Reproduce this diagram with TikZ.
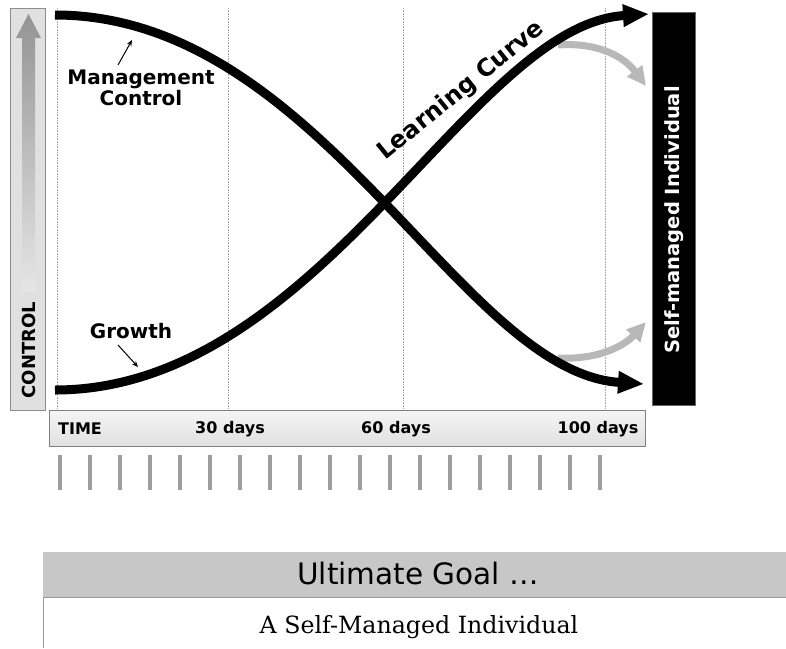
\documentclass[tikz,border=0pt]{standalone}
\usepackage{fontspec}
\setmainfont{DejaVu Serif}
\setsansfont{DejaVu Sans}
\usetikzlibrary{arrows.meta}
\begin{document}
\begin{tikzpicture}[x=1pt,y=-1pt,
  curve/.style={line width=9pt,-{Triangle[length=26pt,width=21pt]}},
  softarrow/.style={line width=7pt,color=black!28,-{Triangle[length=19pt,width=18pt]}},
  grid/.style={draw=black!35,line width=0.6pt,densely dotted},
  lbl/.style={font=\sffamily\bfseries\fontsize{20}{18}\selectfont,align=center,inner sep=0pt},
  daylbl/.style={font=\sffamily\bfseries\fontsize{16}{17}\selectfont,inner sep=0pt},
  tick/.style={draw=black!38,line width=3.5pt},
  pointer/.style={line width=1pt,-{Stealth[length=6pt,width=5pt]}}]
\useasboundingbox (0,0) rectangle (786,648);
% vertical control scale
\node[draw=black!45,line width=0.6pt,fill=black!12,minimum width=35pt,minimum height=402pt,inner sep=0pt] (ctrlbox) at (27.5,209) {};
\shade[top color=black!42,bottom color=black!10]
  (22,292) -- (22,38) -- (16,38) -- (28.5,14) -- (41,38) -- (35,38) -- (35,292) -- cycle;
\node[rotate=90,font=\sffamily\bfseries\fontsize{18}{19}\selectfont,inner sep=0pt] (ctrl) at (28.5,350) {CONTROL};
% time grid
\foreach \x/\n in {57/ga,228/gb,403/gc,605/gd}{
  \coordinate (\n top) at (\x,8);
  \coordinate (\n bot) at (\x,410);
  \draw[grid] (\n top) -- (\n bot);
}
% time bar
\node[draw=black!50,line width=0.6pt,top color=black!4,bottom color=black!12,minimum width=596pt,minimum height=36pt,inner sep=0pt] (timebar) at (347,428) {};
\node[daylbl] (t0) at (80,429) {TIME};
\node[daylbl] (t30) at (230,429) {30 days};
\node[daylbl] (t60) at (396,429) {60 days};
\node[daylbl] (t100) at (598,429) {100 days};
% ticks
\foreach \i in {0,...,18}{
  \coordinate (tk\i a) at (60+30*\i,455);
  \coordinate (tk\i b) at (60+30*\i,490);
  \draw[tick] (tk\i a) -- (tk\i b);
}
% goal box
\node[draw=black!60,line width=0.8pt,fill=black,minimum width=43pt,minimum height=393pt,inner sep=0pt] (goal) at (673.5,208.5) {};
\node[rotate=90,text=white,font=\sffamily\bfseries\fontsize{19.5}{20}\selectfont,inner sep=0pt] (goaltxt) at (674,220) {Self-managed Individual};
% curve end points
\coordinate (mstart) at (55,15);
\coordinate (mend) at (644,384);
\coordinate (gstart) at (55,390);
\coordinate (gend) at (649,14);
% soft arrows toward the goal
\coordinate (sa1) at (558,45);
\coordinate (sa1e) at (646,86);
\coordinate (sa2) at (558,358);
\coordinate (sa2e) at (646,322);
\draw[softarrow] (sa1) .. controls (600,42) and (625,58) .. (sa1e);
\draw[softarrow] (sa2) .. controls (600,360) and (625,345) .. (sa2e);
% main curves
\draw[curve] (mstart) .. controls (320,15) and (460,372) .. (mend);
\draw[curve] (gstart) .. controls (320,390) and (470,25) .. (gend);
% labels
\node[lbl] (mgmt) at (141,88) {Management\\Control};
\coordinate (mpfoot) at (118,65);
\coordinate (mptip) at (132,40);
\draw[pointer] (mpfoot) -- (mptip);
\node[lbl] (growth) at (131,331) {Growth};
\coordinate (gpfoot) at (118,345);
\coordinate (gptip) at (138,367);
\draw[pointer] (gpfoot) -- (gptip);
\node[rotate=39,font=\sffamily\bfseries\fontsize{24}{25}\selectfont,inner sep=0pt] (lc) at (461,91) {Learning Curve};
% ultimate goal banner
\fill[black!22] (43,552) rectangle (786,597);
\node[font=\sffamily\fontsize{29.5}{31}\selectfont,inner sep=0pt] (ug) at (418,573) {Ultimate Goal \dots};
\draw[black!40,line width=0.6pt] (786,597) -- (43,597) -- (43,648);
\node[font=\fontsize{23.7}{25}\selectfont,inner sep=0pt] (smi) at (419,627) {A Self-Managed Individual};
\end{tikzpicture}
\end{document}
